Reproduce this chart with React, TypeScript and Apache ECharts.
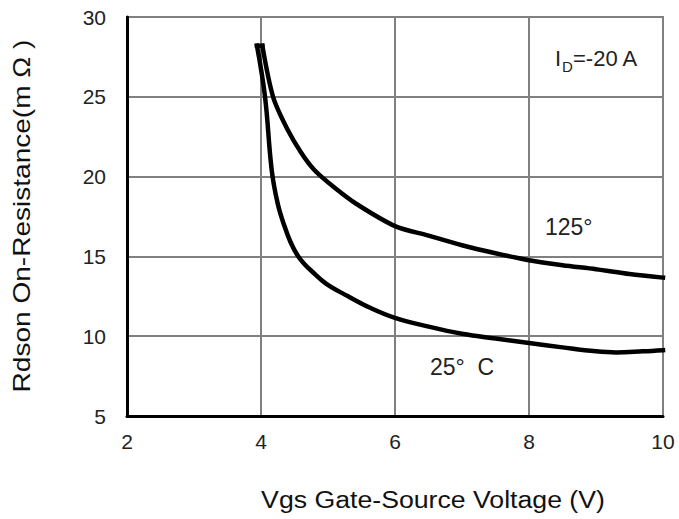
import React, { useEffect, useRef } from "react";
import * as echarts from "echarts";

const xTicks = [2, 4, 6, 8, 10];
const yTicks = [5, 10, 15, 20, 25, 30];

const vgs25 = [3.94, 4.06, 4.16, 4.25, 4.35, 4.44, 4.54, 4.64, 4.75, 4.97, 5.3, 5.62, 6, 6.5, 7, 7.5, 8, 8.5, 9, 9.3, 9.7, 10];
const rds25 = [28.2, 25, 20.4, 18.3, 16.9, 15.9, 15.1, 14.55, 14.1, 13.3, 12.5, 11.8, 11.15, 10.6, 10.15, 9.85, 9.58, 9.3, 9.05, 8.98, 9.05, 9.12];

const vgs125 = [4.02, 4.18, 4.39, 4.6, 4.8, 5.1, 5.42, 6, 6.5, 7, 7.5, 8, 8.5, 9, 9.5, 10];
const rds125 = [28.2, 25, 23, 21.5, 20.4, 19.3, 18.3, 16.9, 16.3, 15.7, 15.2, 14.76, 14.45, 14.2, 13.9, 13.67];

const capVgs = [3.94, 4.02];
const capRds = [28.2, 28.2];

const xTitle = "Vgs Gate-Source Voltage (V)";
const yTitle = "Rdson On-Resistance(m Ω )";
const label25 = "25°  C";
const label125 = "125°";

const FONT = "'Liberation Sans', Arial, sans-serif";

export default function App() {
  const ref = useRef<HTMLDivElement>(null);
  useEffect(() => {
    if (!ref.current) return;
    const chart = echarts.init(ref.current, null, { renderer: "svg" });
    const zip = (xs: number[], ys: number[]) => xs.map((x, i) => [x, ys[i]]);
    const curve = (name: string, data: number[][], smooth: number | boolean) => ({
      type: "line",
      name,
      data,
      smooth,
      showSymbol: false,
      lineStyle: { color: "#000", width: 4.5, cap: "square", join: "round" },
    });
    chart.setOption({
      animation: false,
      backgroundColor: "#ffffff",
      grid: {
        left: 127,
        right: 16,
        top: 17,
        bottom: 103,
        show: true,
        borderColor: "#808080",
        borderWidth: 2,
      },
      xAxis: {
        type: "value",
        min: 2,
        max: 10,
        interval: 2,
        axisLine: { show: true, onZero: false, lineStyle: { color: "#000", width: 3 } },
        axisTick: { show: false },
        splitLine: { show: true, lineStyle: { color: "#808080", width: 2 } },
        axisLabel: {
          color: "#222",
          fontSize: 21,
          fontFamily: FONT,
          margin: 15,
          formatter: (v: number) => (xTicks.includes(v) ? String(v) : ""),
        },
      },
      yAxis: {
        type: "value",
        min: 5,
        max: 30,
        interval: 5,
        axisLine: { show: true, onZero: false, lineStyle: { color: "#000", width: 3 } },
        axisTick: { show: false },
        splitLine: { show: true, lineStyle: { color: "#808080", width: 2 } },
        axisLabel: {
          color: "#222",
          fontSize: 21,
          fontFamily: FONT,
          margin: 21,
          formatter: (v: number) => (yTicks.includes(v) ? String(v) : ""),
        },
      },
      series: [
        curve("25", zip(vgs25, rds25), 0.4),
        curve("125", zip(vgs125, rds125), 0.3),
        curve("cap", zip(capVgs, capRds), false),
      ],
      graphic: [
        {
          type: "text",
          x: 22,
          y: 216,
          rotation: Math.PI / 2,
          scaleX: 1.22,
          style: {
            text: yTitle,
            fontSize: 23,
            fontFamily: FONT,
            fill: "#111",
            align: "center",
            verticalAlign: "middle",
          },
        },
        {
          type: "text",
          x: 433,
          y: 500,
          scaleX: 1.16,
          style: {
            text: xTitle,
            fontSize: 23,
            fontFamily: FONT,
            fill: "#111",
            align: "center",
            verticalAlign: "middle",
          },
        },
        {
          type: "text",
          x: 555,
          y: 58,
          style: { text: "I", fontSize: 22, fontFamily: FONT, fill: "#222", align: "left", verticalAlign: "middle" },
        },
        {
          type: "text",
          x: 562,
          y: 66,
          style: { text: "D", fontSize: 15, fontFamily: FONT, fill: "#222", align: "left", verticalAlign: "middle" },
        },
        {
          type: "text",
          x: 573,
          y: 58,
          style: { text: "=-20 A", fontSize: 22, fontFamily: FONT, fill: "#222", align: "left", verticalAlign: "middle" },
        },
        {
          type: "text",
          x: 545,
          y: 227,
          style: { text: label125, fontSize: 23, fontFamily: FONT, fill: "#222", align: "left", verticalAlign: "middle" },
        },
        {
          type: "text",
          x: 430,
          y: 367,
          style: { text: label25, fontSize: 23, fontFamily: FONT, fill: "#222", align: "left", verticalAlign: "middle" },
        },
      ],
    });
    return () => chart.dispose();
  }, []);
  return <div ref={ref} style={{ width: 679, height: 519, position: "absolute", left: 0, top: 0 }} />;
}
